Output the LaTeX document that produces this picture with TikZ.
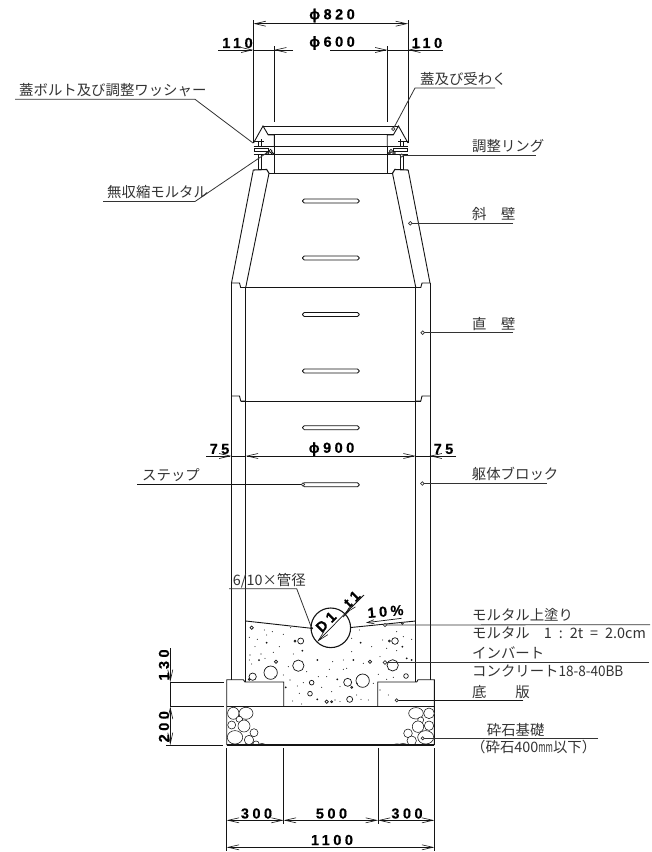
\documentclass[tikz,border=0pt]{standalone}
\usepackage{fontspec}
\usepackage{graphicx}
\usetikzlibrary{arrows.meta}
\setmainfont[Kerning=Off]{Noto Sans CJK JP}
\newfontfamily\dimf[LetterSpace=24,FakeBold=0.4]{Liberation Sans Bold}
\definecolor{ink}{gray}{0.08}
\definecolor{txt}{gray}{0.2}
\tikzset{
  wall/.style={draw=ink,line width=0.9pt},
  thin line/.style={draw=ink,line width=0.7pt},
  leader/.style={draw=txt,line width=0.8pt},
  dimline/.style={draw=ink,line width=0.7pt,arrows={-}},
  tipr/.style={-{Straight Barb[length=11pt,width=5pt,line width=0.6pt]}},
  lbl/.style={anchor=base west,inner sep=0pt,text=txt,font=\fontsize{14.4}{15}\selectfont},
  dimtext/.style={inner sep=0pt,text=black,font=\dimf\fontsize{14.5}{15}\selectfont},
  lead dot/.style={draw=txt,line width=0.7pt,fill=white},
  stepbar/.style={draw=ink,line width=0.8pt,rounded corners=1.8pt,fill=white},
  stone/.style={draw=ink,line width=0.55pt,fill=white}
}
\newcommand{\halfbody}{%
  % lid and ring
  \draw[wall] (253.5,143) -- (263,126) -- (268.3,135) -- (274.3,135) -- (274.3,146);
  \draw[wall] (253.5,141.5) -- (264,141.5);
  \draw[thin line] (254,148) rectangle (268,151.5);
  \draw[thin line] (258,141) -- (258,146) (261,139) -- (261,146);
  \draw[thin line] (258.5,154) -- (258.5,170) (261.5,154) -- (261.5,170);
  \draw[thin line] (270.5,151) circle (1.6) (267.5,153) circle (1.3) (272.5,153.5) circle (1.2);
  \draw[wall] (274,146) -- (274,173.7);
  % slanted wall
  \draw[wall] (253.3,170) -- (231.5,283);
  \draw[wall] (269,173.3) -- (245.7,287.5);
  \draw[wall,line width=1.1pt] (253.3,170) -- (266.7,169.5) -- (269,173.3);
  % straight wall
  \draw[wall] (231.5,283) -- (239.5,283) -- (240.7,287.5) -- (245.7,287.5);
  \draw[wall] (231.5,396) -- (239.5,396) -- (240.7,401) -- (245.7,401);
  \draw[wall] (231.5,283) -- (231.5,680);
  \draw[wall] (245.7,287.5) -- (245.7,682);
}
\begin{document}
\begin{tikzpicture}[x=1pt,y=-1pt]
\useasboundingbox[fill=white] (0,0) rectangle (652,852);
% ---- body, left half and its mirror image
\halfbody
\begin{scope}[xshift=661.5pt,xscale=-1]
\halfbody
\end{scope}
% ---- long horizontals
\draw[wall] (263,126) -- (398.5,126);
\draw[wall,line width=1.1pt] (268.3,134.7) -- (393.2,134.7);
\draw[wall] (253.5,146) -- (408,146);
\draw[wall] (253.5,154) -- (408,154);
\draw[wall] (269,173.7) -- (392.5,173.7);
\draw[wall] (240.7,287.5) -- (420.8,287.5);
\draw[wall] (240.7,401) -- (420.8,401);
% ---- steps
\foreach \sy in {201,258,314.5,371,427.7,484.7}
  \draw[stepbar] (302.5,\sy-2) rectangle (359.3,\sy+2);
% ---- invert surface and pipe
\coordinate (pipeL) at (311.7,628.3);
\coordinate (pipeR) at (350.7,627.5);
\draw[wall] (245.7,621) -- (pipeL);
\draw[wall] (pipeR) -- (415.7,621);
% ---- base slab
\draw[wall] (226.7,745) -- (226.7,679.7) -- (243.3,679.7) -- (245,682) -- (283.7,682) -- (283.7,706.7);
\draw[wall] (434.3,745) -- (434.3,679.7) -- (418,679.7) -- (416.7,682) -- (377.7,682) -- (377.7,706.7);
\draw[wall] (226.7,706.7) -- (434.3,706.7);
% ---- crushed stone
\begin{scope}
\clip (226.7,706.7) rectangle (434.3,745);
\foreach \cx/\cy/\rx/\ry in {233.3/713.3/5.7/6,246/713.3/7/6,239.3/719.3/3.3/3,231.7/725/4/4,244/726/6/6,254/732.7/4/4,235/737.3/7.7/6.7,249/740/4.7/4.7,256/743.5/3/2.5,262/745/3/1.5,
  416/713.3/7.3/5.7,429/713.3/5.3/5.3,420.7/720/3/3,418/726.7/5.7/5.7,429/725.7/4.7/4.7,408/733.3/4.3/4.3,425.7/737.3/8/6.7,411.7/740.7/4.7/4.7,403/745/4/1.5,397/745/3/1.2}
  \draw[stone] (\cx,\cy) ellipse ({\rx} and {\ry});
\end{scope}
\draw[wall,line width=1.2pt] (226.7,745) -- (434.3,745);
% ---- aggregate
\foreach \zx/\zy/\zr in {35/143/5,182/183/9,165/183/3,175/257/17,92/278/20,38/290/11,108/245/5,465/183/10,448/183/3,458/256/17,498/288/7,390/245/5,368/302/20,323/307/12,215/308/7,210/341/7,329/358/9,260/365/5,275/365/3,335/322/3,28/298/3}
  \draw[thin line] ({240+\zx/3},{580+\zy/3}) circle ({\zr/3});
\foreach \zx/\zy in {73/150,97/155,130/163,152/143,28/172,52/178,118/200,45/200,63/222,30/225,28/240,100/217,160/222,35/252,130/285,75/235,278/245,310/240,370/250,150/300,172/318,245/322,178/340,275/335,158/363,185/372,310/268,268/268,415/283,400/310,440/298,460/292,515/178,335/175,358/150,440/205,470/212,420/230,395/200,335/215,320/265,350/345,363/358,385/360,300/320,352/310,428/180,470/155,490/170,190/308,260/290,105/290,80/165,200/275,145/260,235/290,285/360,420/330,445/345,300/365}
  \fill[ink] ({240+\zx/3},{580+\zy/3}) circle (0.55);
\foreach \zx/\zy in {80/188,57/240,187/212,232/240,340/240,137/322,292/298,232/358,362/188,487/200,500/235,515/240}
  \fill[ink] ({240+\zx/3},{580+\zy/3}) circle (1);
% ---- pipe
\node[draw=ink,line width=1.1pt,fill=white,circle,minimum size=39.6pt,inner sep=0pt] (pipe) at (330.8,627.8) {};
\coordinate (dA) at (317.3,641.7);
\coordinate (dB) at (344.8,613.8);
\coordinate (tEnd) at (364,595);
\draw[dimline] (dB) -- (tEnd);
\draw[draw=ink,line width=0.7pt,tipr] (dB) -- (dA);
\draw[draw=ink,line width=0.7pt,tipr] (tEnd) -- (dB);
\draw[draw=ink,line width=0.7pt] (343,617) -- (349,611);
\node[dimtext,rotate=45] (dlabel) at (326,622) {D1};
\node[dimtext,rotate=45] (tlabel) at (352,599) {t1};
% 10%
\coordinate (slopeA) at (401.7,618.3);
\coordinate (slopeB) at (366,622.7);
\draw[draw=ink,line width=0.7pt,{Straight Barb[length=7pt,width=4pt,line width=0.6pt]}-] (slopeB) -- (slopeA);
\node[dimtext,rotate=5] (slopelabel) at (385.5,611.5) {10\%};
% ---- dimensions, top
\coordinate (ol) at (253.5,20); \coordinate (or) at (408,20);
\coordinate (il) at (274,46);   \coordinate (ir) at (387.5,46);
\draw[thin line] (ol) -- (253.5,143);
\draw[thin line] (or) -- (408,143);
\draw[thin line] (il) -- (274,122);
\draw[thin line] (ir) -- (387.5,122);
\draw[draw=ink,line width=0.7pt,tipr] (331,23.7) -- (253.5,23.7);
\draw[draw=ink,line width=0.7pt,tipr] (331,23.7) -- (408,23.7);
\draw[draw=ink,line width=0.7pt,tipr] (218,50) -- (253.5,50);
\draw[draw=ink,line width=0.7pt,tipr] (293,50) -- (274,50);
\draw[draw=ink,line width=0.7pt] (253.5,50) -- (293,50);
\draw[draw=ink,line width=0.7pt,tipr] (330,50) -- (387.5,50);
\draw[draw=ink,line width=0.7pt] (387.5,50) -- (443,50);
\draw[draw=ink,line width=0.7pt,tipr] (425,50) -- (408,50);
\node[dimtext] (d820) at (332,15.5) {ϕ820};
\node[dimtext] (d600) at (332,43) {ϕ600};
\node[dimtext] (d110l) at (237.5,43) {110};
\node[dimtext] (d110r) at (427,43) {110};
% ---- dimensions, middle
\draw[draw=ink,line width=0.7pt,tipr] (206,456) -- (231.5,456);
\draw[draw=ink,line width=0.7pt,tipr] (331,456) -- (245.7,456);
\draw[draw=ink,line width=0.7pt,tipr] (331,456) -- (415.7,456);
\draw[draw=ink,line width=0.7pt,tipr] (456,456) -- (429.5,456);
\draw[draw=ink,line width=0.7pt] (231.5,456) -- (245.7,456) (415.7,456) -- (429.5,456);
\node[dimtext] (d900) at (331.5,449) {ϕ900};
\node[dimtext] (d75l) at (219.5,449) {75};
\node[dimtext] (d75r) at (443.5,449) {75};
% ---- dimensions, left
\draw[thin line] (170,682) -- (224,682);
\draw[thin line] (170,706.7) -- (224,706.7);
\draw[thin line] (166,745) -- (223,745);
\draw[draw=ink,line width=0.7pt,tipr] (170.3,648) -- (170.3,682);
\draw[draw=ink,line width=0.7pt] (170.3,682) -- (170.3,706.7);
\draw[draw=ink,line width=0.7pt,tipr] (170.3,726) -- (170.3,706.7);
\draw[draw=ink,line width=0.7pt,tipr] (170.3,726) -- (170.3,745);
\node[dimtext,rotate=90] (d130) at (164,665) {130};
\node[dimtext,rotate=90] (d200) at (164,726.7) {200};
% ---- dimensions, bottom
\draw[thin line] (226.7,748) -- (226.7,851);
\draw[thin line] (434.3,748) -- (434.3,851);
\draw[thin line] (283.7,748) -- (283.7,824);
\draw[thin line] (378,748) -- (378,824);
\draw[draw=ink,line width=0.7pt,tipr] (255,820.3) -- (226.7,820.3);
\draw[draw=ink,line width=0.7pt,tipr] (255,820.3) -- (283.7,820.3);
\draw[draw=ink,line width=0.7pt,tipr] (331,820.3) -- (283.7,820.3);
\draw[draw=ink,line width=0.7pt,tipr] (331,820.3) -- (378,820.3);
\draw[draw=ink,line width=0.7pt,tipr] (406,820.3) -- (378,820.3);
\draw[draw=ink,line width=0.7pt,tipr] (406,820.3) -- (434.3,820.3);
\draw[draw=ink,line width=0.7pt,tipr] (331,847.3) -- (226.7,847.3);
\draw[draw=ink,line width=0.7pt,tipr] (331,847.3) -- (434.3,847.3);
\node[dimtext] (d300l) at (256.5,813.5) {300};
\node[dimtext] (d500) at (331.5,813.5) {500};
\node[dimtext] (d300r) at (407,813.5) {300};
\node[dimtext] (d1100) at (332,840) {1100};
% ---- labels and leaders
\node[lbl] (lidbolt) at (19,95.5) {蓋ボルト及び調整ワッシャー};
\coordinate (lidboltA) at (15,99.3); \coordinate (lidboltB) at (195,99.3); \coordinate (lidboltC) at (253,143);
\draw[leader] (lidboltA) -- (lidboltB) -- (lidboltC);
\node[lbl] (mortar) at (107,197.5) {無収縮モルタル};
\coordinate (mortarA) at (103,201.5); \coordinate (mortarB) at (195,201.5); \coordinate (mortarC) at (268,152);
\draw[leader] (mortarA) -- (mortarB) -- (mortarC);
\node[lbl] (lid) at (420,84) {蓋及び受わく};
\coordinate (lidA) at (495,88); \coordinate (lidB) at (415,88); \coordinate (lidC) at (394,127.5);
\draw[leader] (lidA) -- (lidB) -- (lidC);
\draw[lead dot] (393.3,129) circle (1.6);
\node[lbl] (ring) at (472,151.5) {調整リング};
\coordinate (ringA) at (535.7,155.5); \coordinate (ringB) at (401.7,155.5);
\draw[leader] (ringA) -- (ringB); \draw[lead dot] (ringB) circle (1.6);
\node[lbl] (slant) at (472,219.5) {斜　壁};
\coordinate (slantA) at (513,223.3); \coordinate (slantB) at (410.3,223.3);
\draw[leader] (slantA) -- (slantB); \draw[lead dot] (slantB) circle (1.8);
\node[lbl] (straight) at (472,329) {直　壁};
\coordinate (strA) at (513,332.7); \coordinate (strB) at (422.7,332.7);
\draw[leader] (strA) -- (strB); \draw[lead dot] (strB) circle (1.8);
\node[lbl] (stepl) at (142,480.5) {ステップ};
\coordinate (stepA) at (137,484.5); \coordinate (stepB) at (302.5,484.5);
\draw[draw=ink,line width=0.9pt] (stepA) -- (stepB); \draw[lead dot] (303,484.5) circle (1.6);
\node[lbl] (block) at (471.7,479.5) {躯体ブロック};
\coordinate (blockA) at (546.7,483.5); \coordinate (blockB) at (422.3,483.5);
\draw[leader] (blockA) -- (blockB); \draw[lead dot] (blockB) circle (1.8);
\node[lbl] (ratio) at (232.7,585) {6/10×管径};
\coordinate (ratioA) at (229,588.7); \coordinate (ratioB) at (296.7,588.7);
\draw[leader] (ratioA) -- (ratioB) -- (pipeL); \fill[ink] (pipeL) circle (1.4);
\node[lbl] (coat) at (472,620.5) {モルタル上塗り};
\coordinate (coatA) at (650,624.7); \coordinate (coatB) at (385,625);
\draw[leader] (coatA) -- (coatB); \draw[lead dot] (coatB) circle (1.6);
\draw[lead dot] (402.3,623.5) circle (1);
\node[lbl] (coat2) at (472,638.5) {モルタル\hspace{14pt}1\hspace{7pt}:\hspace{7pt}2t\hspace{7pt}=\hspace{7pt}2.0cm};
\node[lbl] (inv) at (472,658.5) {インバート};
\coordinate (invA) at (649,662.5); \coordinate (invB) at (385,662.5);
\draw[leader] (invA) -- (invB); \draw[lead dot] (invB) circle (1.8);
\node[lbl] (inv2) at (472,676) {コンクリート\scalebox{0.94}[1]{18-8-40BB}};
\node[lbl] (slab) at (472,697) {底　　版};
\coordinate (slabA) at (523.3,700.3); \coordinate (slabB) at (396.7,700.3);
\draw[draw=ink,line width=0.9pt] (slabA) -- (slabB); \draw[lead dot] (slabB) circle (1.6);
\node[lbl] (found) at (486.7,735.5) {砕石基礎};
\coordinate (foundA) at (598,738.3); \coordinate (foundB) at (422.7,738.3);
\draw[leader] (foundA) -- (foundB); \draw[lead dot] (foundB) circle (1.6);
\node[lbl] (found2) at (471,752) {（砕石400\scalebox{0.55}[1]{mm}以下）};
\end{tikzpicture}
\end{document}
